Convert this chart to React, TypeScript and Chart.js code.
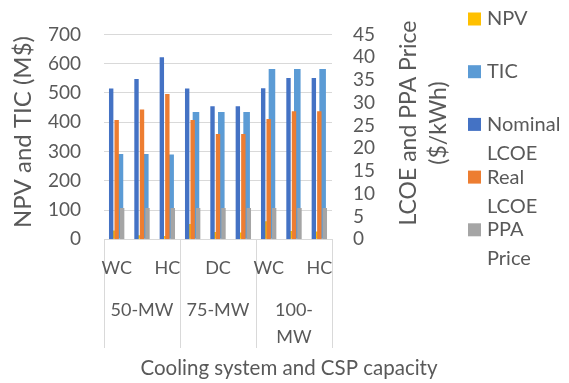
import React, { useEffect, useRef } from 'react';
import { Chart, registerables } from 'chart.js';

Chart.register(...registerables);

// Cooling system per CSP capacity
const categories = ['WC', 'DC', 'HC', 'WC', 'DC', 'HC', 'WC', 'DC', 'HC'];
// Category labels that fit under the axis (the rest are skipped)
const tickLabels = ['WC', '', 'HC', '', 'DC', '', 'WC', '', 'HC'];
const capacityLabels = [['50-MW'], ['75-MW'], ['100-', 'MW']];

// Left axis (M$)
const npv = [30, 14, 11, 52, 25, 23, 62, 28, 27];
const tic = [291, 291, 290, 435, 435, 435, 582, 582, 582];
// Right axis ($/kWh)
const nominalLcoe = [33.1, 35.2, 40.0, 33.1, 29.2, 29.2, 33.2, 35.4, 35.4];
const realLcoe = [26.2, 28.5, 31.9, 26.2, 23.1, 23.1, 26.4, 28.1, 28.1];
const ppaPrice = [6.9, 6.9, 6.9, 6.9, 6.9, 6.9, 6.9, 6.9, 6.9];

const leftTitle = 'NPV and TIC (M$)';
const rightTitle = ['LCOE and PPA Price', '($/kWh)'];
const xTitle = 'Cooling system and CSP capacity';

const FONT = 'Lato, "Open Sans", sans-serif';
const TEXT = '#595959';
const GRID = '#d9d9d9';

const annotate = {
  id: 'annotate',
  afterDraw(chart: any) {
    const { ctx, chartArea, scales } = chart;
    const x = scales.x;
    ctx.save();

    // group separators below the axis
    ctx.strokeStyle = GRID;
    ctx.lineWidth = 1;
    for (let k = 0; k <= capacityLabels.length; k++) {
      const px = Math.round(x.getPixelForValue(k * 3 - 0.5)) + 0.5;
      ctx.beginPath();
      ctx.moveTo(px, chartArea.bottom);
      ctx.lineTo(px, 348);
      ctx.stroke();
    }

    ctx.fillStyle = TEXT;
    ctx.textAlign = 'center';
    ctx.textBaseline = 'middle';
    ctx.font = `18px ${FONT}`;
    tickLabels.forEach((t, i) => {
      if (t) ctx.fillText(t, x.getPixelForValue(i), 268);
    });
    capacityLabels.forEach((lines, k) => {
      const cx = x.getPixelForValue(k * 3 + 1);
      lines.forEach((l, j) => ctx.fillText(l, cx, 310 + j * 27));
    });

    // axis titles
    ctx.font = `20.5px ${FONT}`;
    ctx.fillText(xTitle, 289, 368);

    ctx.font = `24px ${FONT}`;
    ctx.save();
    ctx.translate(23, 132);
    ctx.rotate(-Math.PI / 2);
    ctx.fillText(leftTitle, 0, 0);
    ctx.restore();

    ctx.font = `23px ${FONT}`;
    rightTitle.forEach((l, j) => {
      ctx.save();
      ctx.translate(409 + j * 30, 123);
      ctx.rotate(-Math.PI / 2);
      ctx.fillText(l, 0, 0);
      ctx.restore();
    });

    // legend
    ctx.font = `20px ${FONT}`;
    ctx.textAlign = 'left';
    chart.data.datasets.forEach((ds: any, i: number) => {
      const y0 = 19 + i * 52.7;
      ctx.fillStyle = ds.backgroundColor;
      ctx.fillRect(468, y0 - 6.5, 13, 13);
      ctx.fillStyle = TEXT;
      String(ds.label)
        .split(' ')
        .forEach((w: string, j: number) => ctx.fillText(w, 487, y0 + j * 29));
    });

    ctx.restore();
  },
};

export default function App() {
  const ref = useRef<HTMLCanvasElement>(null);

  useEffect(() => {
    if (!ref.current) return;
    const tickFont = { family: FONT, size: 19 };
    // Secondary-axis bars take three slots; the primary-axis pair sits
    // behind them, sharing the outer slots with a narrower spacing.
    const secondary = { yAxisID: 'y1', order: 0, categoryPercentage: 0.65, barPercentage: 0.8 };
    const primary = { yAxisID: 'y', order: 1, categoryPercentage: 0.39, barPercentage: 2 };
    const chart = new Chart(ref.current, {
      type: 'bar',
      data: {
        labels: categories,
        datasets: [
          { label: 'NPV', data: npv, backgroundColor: '#FFC000', stack: 's0', ...primary },
          { label: 'TIC', data: tic, backgroundColor: '#5B9BD5', stack: 's2', ...primary },
          { label: 'Nominal LCOE', data: nominalLcoe, backgroundColor: '#4472C4', stack: 's0', ...secondary },
          { label: 'Real LCOE', data: realLcoe, backgroundColor: '#ED7D31', stack: 's1', ...secondary },
          { label: 'PPA Price', data: ppaPrice, backgroundColor: '#A5A5A5', stack: 's2', ...secondary },
        ] as any,
      },
      options: {
        responsive: false,
        animation: false,
        devicePixelRatio: 1,
        layout: { padding: { left: 0, right: 0, top: 22.7, bottom: 0 } },
        plugins: {
          legend: { display: false },
          tooltip: { enabled: false },
        },
        scales: {
          x: {
            type: 'category',
            offset: true,
            ticks: { display: false },
            grid: { display: false, drawTicks: false },
            border: { display: true, color: GRID },
            afterFit: (s: any) => { s.height = 143.7; },
          },
          y: {
            position: 'left',
            stacked: false,
            min: 0,
            max: 700,
            ticks: { stepSize: 100, autoSkip: false, color: TEXT, font: tickFont, padding: 23 },
            grid: { color: GRID, drawTicks: false },
            border: { display: false },
            afterFit: (s: any) => { s.width = 104; },
          },
          y1: {
            position: 'right',
            stacked: false,
            min: 0,
            max: 45,
            ticks: { stepSize: 5, autoSkip: false, color: TEXT, font: tickFont, padding: 21 },
            grid: { display: false, drawTicks: false },
            border: { display: false },
            afterFit: (s: any) => { s.width = 237; },
          },
        } as any,
      },
      plugins: [annotate],
    });
    return () => chart.destroy();
  }, []);

  return (
    <div style={{ position: 'absolute', left: 0, top: 0, width: 569, height: 383, background: '#fff' }}>
      <canvas ref={ref} width={569} height={383} />
    </div>
  );
}
